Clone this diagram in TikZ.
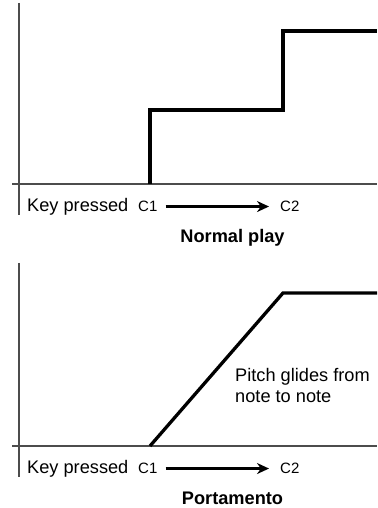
\documentclass[tikz,border=0pt]{standalone}
\usepackage{fontspec}
\setmainfont{Liberation Sans}
\usetikzlibrary{arrows.meta,positioning}

\tikzset{
  axisline/.style={black!70,line width=1.1pt},
  pitchline/.style={black,line width=3.3pt,line join=miter},
  keylbl/.style={font=\fontsize{18.2}{21}\selectfont,inner sep=0pt,anchor=base west},
  notelbl/.style={font=\fontsize{15}{17}\selectfont,inner sep=0pt,anchor=base west},
  titlelbl/.style={font=\bfseries\fontsize{18.2}{21}\selectfont,inner sep=0pt,anchor=base},
  glidearrow/.style={-{Stealth[length=12pt,width=11pt]},line width=2.6pt,shorten <=8pt,shorten >=11pt}
}

\begin{document}
\begin{tikzpicture}[x=1pt,y=1pt]
\useasboundingbox (0,0) rectangle (377,508);
% --- top: normal play ---
\begin{scope}[shift={(0,0)}]
  \draw[axisline] (19,505) -- (19,293);
  \draw[axisline] (12,324) -- (377,324);
  \draw[pitchline] (150,324) -- (150,398) -- (283,398) -- (283,477) -- (377,477);
  \node[keylbl] (keyA) at (27,296.3) {Key pressed};
  \node[notelbl] (cA1) at (138,296.3) {C1};
  \node[notelbl] (cA2) at (280,296.3) {C2};
  \draw[glidearrow] (cA1.east) -- (cA2.west);
  \node[titlelbl] (normal) at (232.5,265) {Normal play};
\end{scope}
% --- bottom: portamento ---
\begin{scope}[shift={(0,-262)}]
  \draw[axisline] (19,507) -- (19,293);
  \draw[axisline] (12,324) -- (377,324);
  \draw[pitchline] (150,324) -- (283,477) -- (377,477);
  \node[keylbl] (keyB) at (27,296.3) {Key pressed};
  \node[notelbl] (cB1) at (138,296.3) {C1};
  \node[notelbl] (cB2) at (280,296.3) {C2};
  \draw[glidearrow] (cB1.east) -- (cB2.west);
  \node[titlelbl] (porta) at (232.5,265) {Portamento};
  \node[keylbl,align=left,font=\fontsize{18.2}{21}\selectfont] (glide) at (235,367) {Pitch glides from\\note to note};
\end{scope}
\end{tikzpicture}
\end{document}
